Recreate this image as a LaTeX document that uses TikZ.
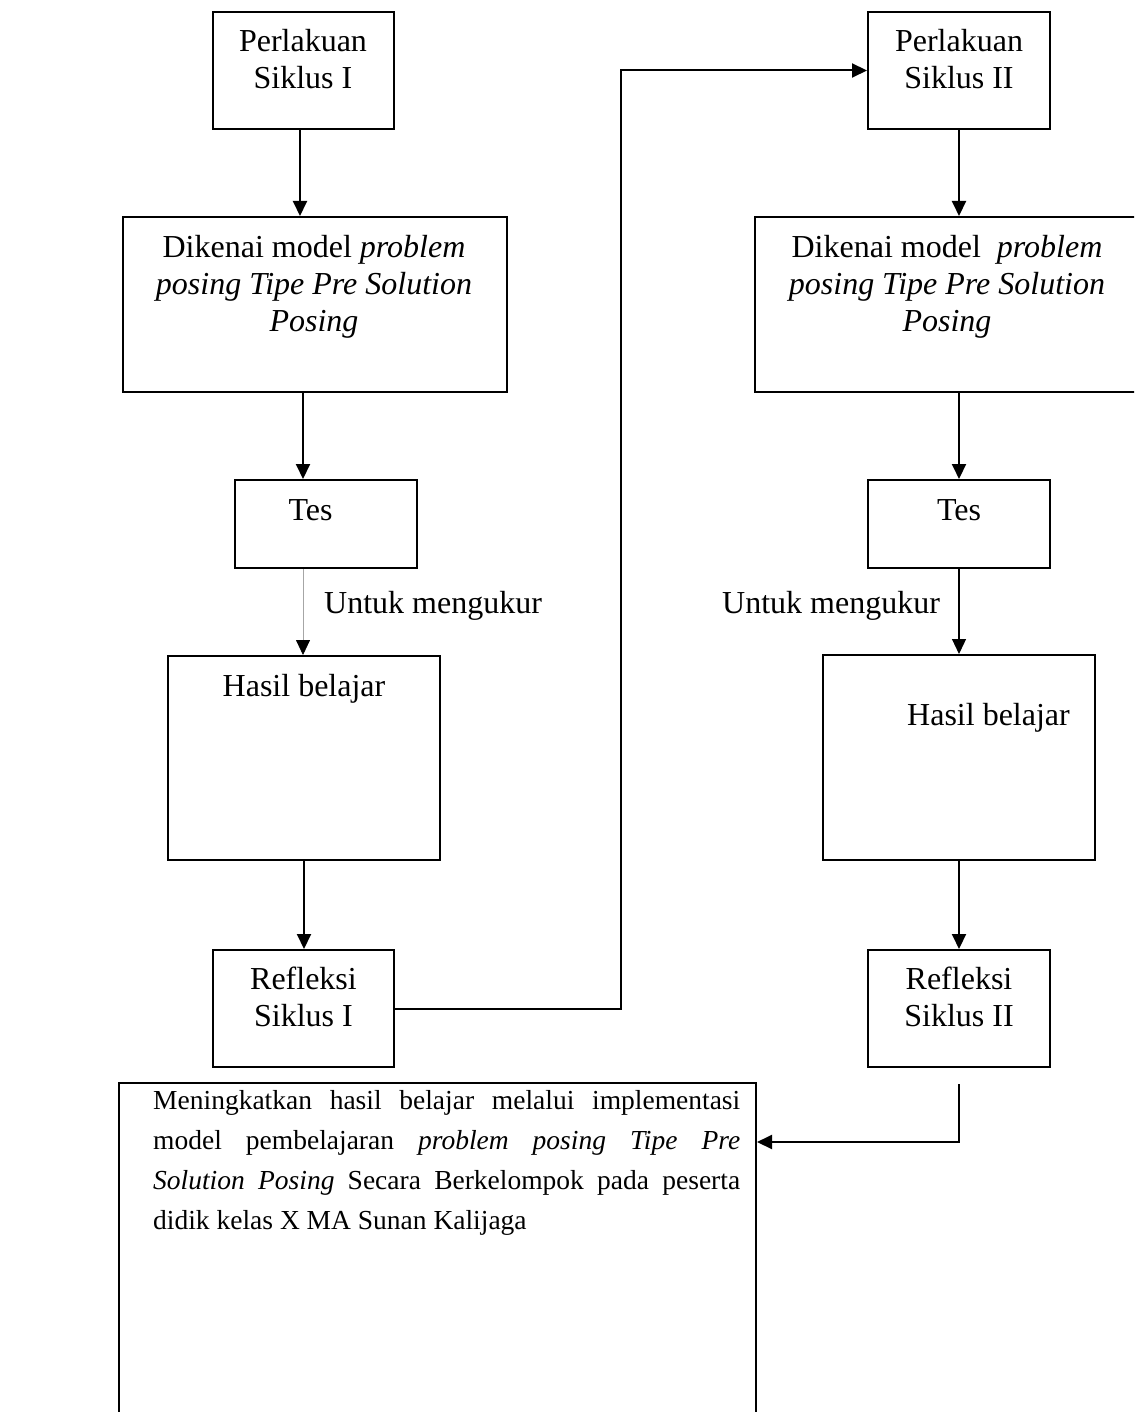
\documentclass[tikz,border=0pt]{standalone}
\usepackage{fontspec}
\setmainfont{Liberation Serif}
\usetikzlibrary{arrows.meta,calc}
\tikzset{
  box/.style={draw, line width=2pt, inner sep=0pt},
  txt/.style={inner sep=0pt, align=center, font=\fontsize{32}{37}\selectfont},
  arr/.style={line width=2pt, -{Triangle[length=15pt,width=14pt]}},
  thinarr/.style={line width=1.2pt, -{Triangle[length=15pt,width=14pt]}},
  greyarr/.style={line width=0.8pt, draw=black!35, -{Triangle[length=15pt,width=14pt,color=black]}},
}
\begin{document}
\begin{tikzpicture}[x=1pt,y=-1pt]
\useasboundingbox (0,0) rectangle (1134,1412);
\clip (0,0) rectangle (1134,1412);
\fill[white] (0,0) rectangle (1134,1412);
% left column boxes
\node[box, minimum width=181, minimum height=117] (p1) at (303.5,70.5) {};
\node[box, minimum width=384, minimum height=175] (d1) at (315,304.5) {};
\node[box, minimum width=182, minimum height=88]  (t1) at (326,524) {};
\node[box, minimum width=272, minimum height=204] (h1) at (304,758) {};
\node[box, minimum width=181, minimum height=117] (r1) at (303.5,1008.5) {};
% right column boxes
\node[box, minimum width=182, minimum height=117] (p2) at (959,70.5) {};
\node[box, minimum width=385, minimum height=175] (d2) at (947.5,304.5) {};
\node[box, minimum width=182, minimum height=88]  (t2) at (959,524) {};
\node[box, minimum width=272, minimum height=205] (h2) at (959,757.5) {};
\node[box, minimum width=182, minimum height=117] (r2) at (959,1008.5) {};
% bottom box
\node[box, minimum width=637, minimum height=360, anchor=north west] (bot) at (118,1082) {};
% texts (base = baseline of the last line)
\node[txt, anchor=base] (p1t) at (303,89) {Perlakuan\\Siklus I};
\node[txt, anchor=base] (d1t) at (314,331) {Dikenai model \textit{problem}\\\textit{posing Tipe Pre Solution}\\\textit{Posing}};
\node[txt, anchor=base] (t1t) at (310.5,520) {Tes};
\node[txt, anchor=base] (h1t) at (304,696) {Hasil belajar};
\node[txt, anchor=base] (r1t) at (303.5,1026) {Refleksi\\Siklus I};
\node[txt, anchor=base] (p2t) at (959,89) {Perlakuan\\Siklus II};
\node[txt, anchor=base] (d2t) at (947,331) {Dikenai model\ \ \textit{problem}\\\textit{posing Tipe Pre Solution}\\\textit{Posing}};
\node[txt, anchor=base] (t2t) at (959,520) {Tes};
\node[txt, anchor=base west] (h2t) at (907,725) {Hasil belajar};
\node[txt, anchor=base] (r2t) at (959,1026) {Refleksi\\Siklus II};
\node[txt, anchor=base west] (l1) at (324,613) {Untuk mengukur};
\node[txt, anchor=base west] (l2) at (722,613) {Untuk mengukur};
\node[inner sep=0pt, anchor=north west, text width=587pt, align=justify,
      font=\fontsize{27.5}{40}\selectfont] (bott) at (153,1090)
  {Meningkatkan hasil belajar melalui implementasi\linebreak
   model pembelajaran \textit{problem posing Tipe Pre}\linebreak
   \textit{Solution Posing} Secara Berkelompok pada peserta\linebreak
   didik kelas X MA Sunan Kalijaga\par};
% connectors
\coordinate (c1) at (303,0);
\coordinate (c0) at (300,0);
\draw[arr] (p1.south -| c0) -- (d1.north -| c0);
\draw[arr] (d1.south -| c1) -- (t1.north -| c1);
\draw[greyarr] (t1.south -| c1) -- (h1.north -| c1);
\draw[arr] (h1.south) -- (r1.north -| h1.south);
\coordinate (up) at (621,70.5);
\draw[arr] (r1.east) -- (r1.east -| up) -- (up) -- (p2.west);
\draw[arr] (p2.south) -- (p2.south |- d2.north);
\draw[arr] (t2.north |- d2.south) -- (t2.north);
\draw[thinarr] (t2.south) -- (h2.north);
\draw[arr] (h2.south) -- (r2.north);
\coordinate (r2out) at ($(r2.south)+(0,16)$);
\coordinate (bend) at (959,1142);
\draw[arr] (r2out) -- (bend) -- (bend -| bot.east);
\end{tikzpicture}
\end{document}
